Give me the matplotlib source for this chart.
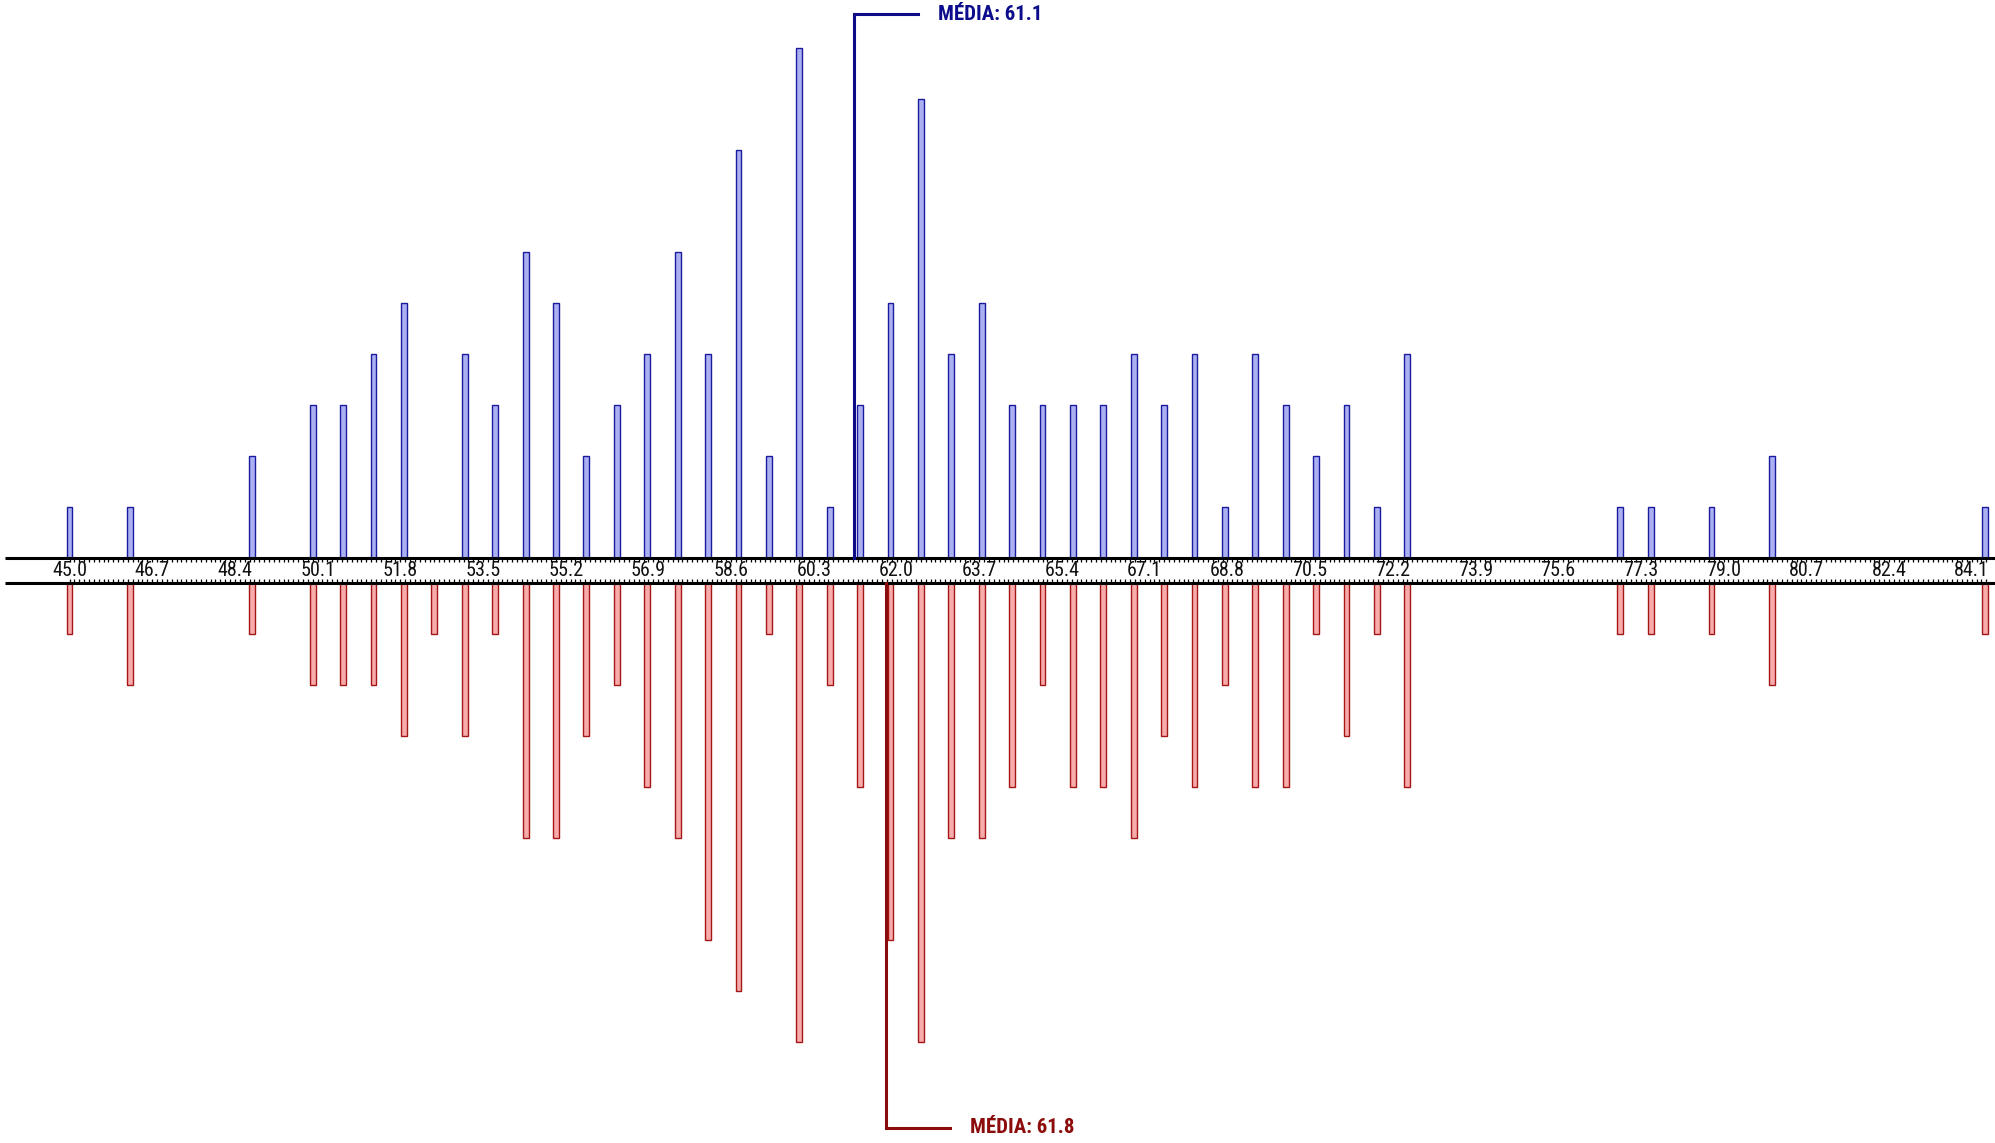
import numpy as np
import matplotlib
matplotlib.use('Agg')
import matplotlib.pyplot as plt
from matplotlib import font_manager

names = {f.name for f in font_manager.fontManager.ttflist}
narrow = [n for n in ['Roboto Condensed', 'Liberation Sans Narrow',
                      'Open Sans Condensed', 'Roboto', 'Liberation Sans']
          if n in names]
plt.rcParams['font.family'] = narrow[:1] + ['DejaVu Sans']

# score values (step 0.625) and counts for both groups
scores = [45.0, 46.25, 48.75, 50.0, 50.625, 51.25, 51.875, 52.5, 53.125,
          53.75, 54.375, 55.0, 55.625, 56.25, 56.875, 57.5, 58.125, 58.75,
          59.375, 60.0, 60.625, 61.25, 61.875, 62.5, 63.125, 63.75, 64.375,
          65.0, 65.625, 66.25, 66.875, 67.5, 68.125, 68.75, 69.375, 70.0,
          70.625, 71.25, 71.875, 72.5, 76.875, 77.5, 78.75, 80.0, 84.375]
blue_counts = [1, 1, 2, 3, 3, 4, 5, 0, 4, 3, 6, 5, 2, 3, 4, 6, 4, 8, 2, 10,
               1, 3, 5, 9, 4, 5, 3, 3, 3, 3, 4, 3, 4, 1, 4, 3, 2, 3, 1, 4,
               1, 1, 1, 2, 1]
red_counts = [1, 2, 1, 2, 2, 2, 3, 1, 3, 1, 5, 5, 3, 2, 4, 5, 7, 8, 1, 9,
              2, 4, 7, 9, 5, 5, 4, 2, 4, 4, 5, 3, 4, 2, 4, 4, 1, 3, 1, 4,
              1, 1, 1, 2, 1]
tick_labels = ['45.0', '46.7', '48.4', '50.1', '51.8', '53.5', '55.2', '56.9',
               '58.6', '60.3', '62.0', '63.7', '65.4', '67.1', '68.8', '70.5',
               '72.2', '73.9', '75.6', '77.3', '79.0', '80.7', '82.4', '84.1']

x = np.array(scores)
blue = np.array(blue_counts)
red = np.array(red_counts)
blue_mean = np.sum(x * blue) / blue.sum()
red_mean = np.sum(x * red) / red.sum()

fig = plt.figure(figsize=(19.95, 11.43), dpi=100)
ax = fig.add_axes([0, 0, 1, 1])
ax.set_xlim(43.571, 84.579)
ax.set_ylim(-11.23, 11.19)
ax.axis('off')

gap = 0.245
bw = 0.12
ax.bar(x[blue > 0], blue[blue > 0], bottom=gap, width=bw,
       color='#aab0f2', edgecolor='#1a1a9e', linewidth=1.0, zorder=2)
ax.bar(x[red > 0], -red[red > 0], bottom=-gap, width=bw,
       color='#f7abab', edgecolor='#a51616', linewidth=1.0, zorder=2)

# band with scale
ax.plot([43.67, 84.6], [gap, gap], color='black', lw=2.2, zorder=3,
        solid_capstyle='butt')
ax.plot([43.67, 84.6], [-gap, -gap], color='black', lw=2.2, zorder=3,
        solid_capstyle='butt')
minor = np.round(np.arange(45.0, 84.45, 0.1), 1)
ax.vlines(minor, gap - 0.07, gap, color='black', lw=0.9, zorder=3)
ax.vlines(minor, -gap, -gap + 0.07, color='black', lw=0.9, zorder=3)
for i, lab in enumerate(tick_labels):
    ax.text(45.0 + 1.7 * i, 0.0, lab, ha='center', va='center',
            fontsize=14.5, color='#111111', zorder=4)

# mean markers
arm = 1.32
pad = 0.41
ax.plot([blue_mean, blue_mean, blue_mean + arm], [gap, 10.91, 10.91],
        color='#0c0c8c', lw=2.2, zorder=5, solid_joinstyle='miter')
ax.text(blue_mean + arm + pad, 10.91, f'MÉDIA: {blue_mean:.1f}',
        ha='left', va='center', fontsize=15, fontweight='bold',
        color='#0c0c8c')
ax.plot([red_mean, red_mean, red_mean + arm], [-gap, -10.93, -10.93],
        color='#8c0c0c', lw=2.2, zorder=5, solid_joinstyle='miter')
ax.text(red_mean + arm + pad, -10.93, f'MÉDIA: {red_mean:.1f}',
        ha='left', va='center', fontsize=15, fontweight='bold',
        color='#8c0c0c')

fig.savefig('out.png', dpi=100)
